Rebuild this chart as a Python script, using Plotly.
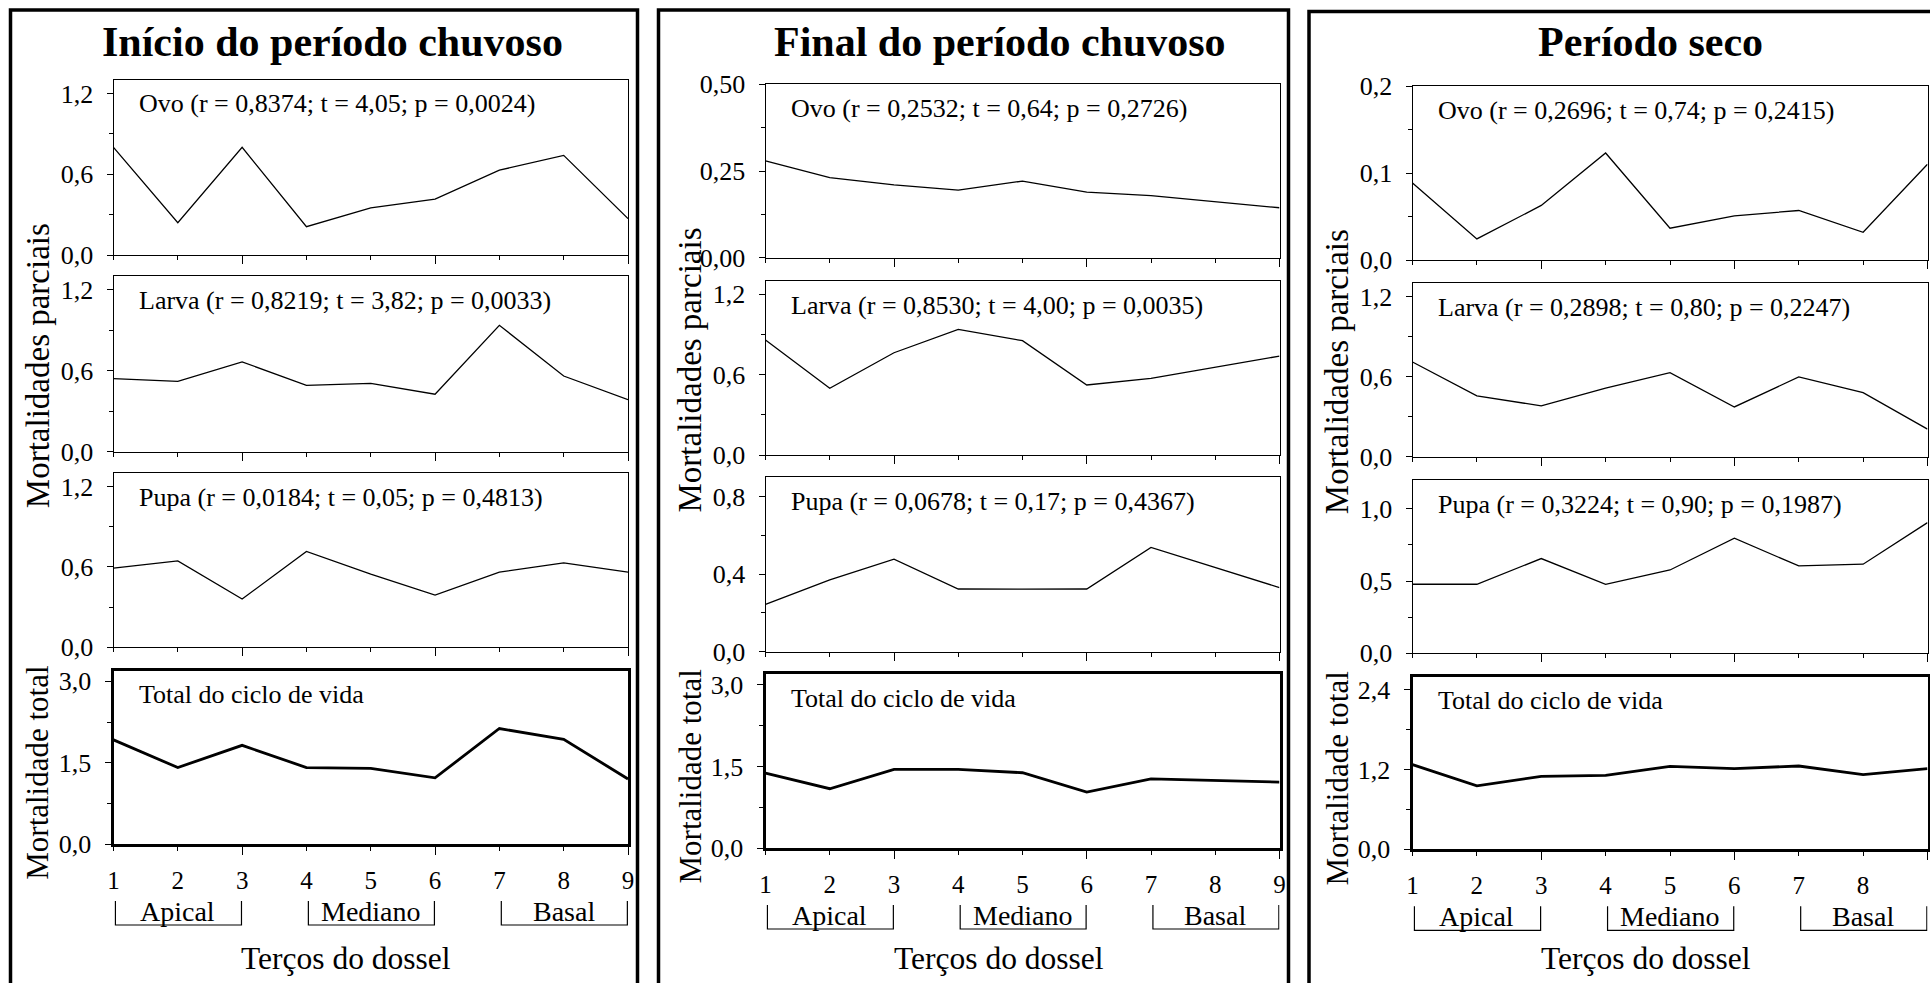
import plotly.graph_objects as go

# ---------------- data ----------------
X = [1, 2, 3, 4, 5, 6, 7, 8, 9]
x_tick_labels = ["1", "2", "3", "4", "5", "6", "7", "8", "9"]

period_titles = ["Início do período chuvoso", "Final do período chuvoso", "Período seco"]

# Início do período chuvoso
ovo_inicio = [0.80, 0.24, 0.80, 0.21, 0.35, 0.415, 0.63, 0.74, 0.27]
larva_inicio = [0.54, 0.52, 0.665, 0.49, 0.505, 0.425, 0.935, 0.56, 0.385]
pupa_inicio = [0.59, 0.645, 0.36, 0.715, 0.545, 0.39, 0.56, 0.63, 0.56]
total_inicio = [1.92, 1.41, 1.82, 1.41, 1.395, 1.22, 2.13, 1.93, 1.20]

# Final do período chuvoso
ovo_final = [0.279, 0.231, 0.210, 0.195, 0.221, 0.189, 0.179, 0.162, 0.144]
larva_final = [0.859, 0.498, 0.764, 0.939, 0.854, 0.523, 0.573, 0.655, 0.739]
pupa_final = [0.244, 0.370, 0.477, 0.323, 0.322, 0.323, 0.537, 0.435, 0.330]
total_final = [1.378, 1.09, 1.445, 1.445, 1.384, 1.029, 1.273, 1.243, 1.212]

# Período seco
ovo_seco = [0.0885, 0.0242, 0.0627, 0.123, 0.0365, 0.0508, 0.0569, 0.0319, 0.110]
larva_seco = [0.710, 0.456, 0.381, 0.515, 0.630, 0.373, 0.598, 0.480, 0.207]
pupa_seco = [0.478, 0.478, 0.656, 0.478, 0.577, 0.797, 0.605, 0.617, 0.905]
total_seco = [1.275, 0.955, 1.10, 1.115, 1.25, 1.215, 1.255, 1.125, 1.215]

labels_inicio = ["Ovo (r = 0,8374; t = 4,05; p = 0,0024)",
                 "Larva (r = 0,8219; t = 3,82; p = 0,0033)",
                 "Pupa (r = 0,0184; t = 0,05; p = 0,4813)",
                 "Total do ciclo de vida"]
labels_final = ["Ovo (r = 0,2532; t = 0,64; p = 0,2726)",
                "Larva (r = 0,8530; t = 4,00; p = 0,0035)",
                "Pupa (r = 0,0678; t = 0,17; p = 0,4367)",
                "Total do ciclo de vida"]
labels_seco = ["Ovo (r = 0,2696; t = 0,74; p = 0,2415)",
               "Larva (r = 0,2898; t = 0,80; p = 0,2247)",
               "Pupa (r = 0,3224; t = 0,90; p = 0,1987)",
               "Total do ciclo de vida"]

yticks_inicio = [[0, 0.6, 1.2], [0, 0.6, 1.2], [0, 0.6, 1.2], [0, 1.5, 3.0]]
yticks_final = [[0, 0.25, 0.5], [0, 0.6, 1.2], [0, 0.4, 0.8], [0, 1.5, 3.0]]
yticks_seco = [[0, 0.1, 0.2], [0, 0.6, 1.2], [0, 0.5, 1.0], [0, 1.2, 2.4]]

groups = ["Apical", "Mediano", "Basal"]
group_bounds = [(1, 3), (4, 6), (7, 9)]

y_title_partial = "Mortalidades parciais"
y_title_total = "Mortalidade total"
x_title = "Terços do dossel"

panels = [
    ([ovo_inicio, larva_inicio, pupa_inicio, total_inicio], labels_inicio, yticks_inicio),
    ([ovo_final, larva_final, pupa_final, total_final], labels_final, yticks_final),
    ([ovo_seco, larva_seco, pupa_seco, total_seco], labels_seco, yticks_seco),
]

# ---------------- layout geometry (pixels) ----------------
W, H = 1930, 983
FONT = "Liberation Serif, Times New Roman, serif"


def fx(px):
    return px / W


def fy(py):
    return 1 - py / H


plot_left = [113.5, 765.5, 1412.5]
plot_right = [628.0, 1279.5, 1927.5]
rows_px = [
    [(80, 255), (276, 451.7), (473, 647.3), (670.5, 844)],
    [(84.3, 257.7), (281, 455), (477, 651.7), (674, 848)],
    [(86, 260), (283.3, 456.7), (480, 653.3), (676.7, 849.3)],
]
y_max = [[1.3, 1.3, 1.3, 3.2], [0.5, 1.3, 0.9, 3.2], [0.2, 1.3, 1.2, 2.6]]
y_fmt = [[".1f"] * 4, [".2f", ".1f", ".1f", ".1f"], [".1f"] * 4]
title_cx = [332.5, 1000, 1650]
xtitle_cx = [346, 999, 1646]
frames = [(10.5, 637.5), (658.5, 1288.5), (1309, 1950)]

fig = go.Figure()
layout = dict(
    width=W, height=H,
    margin=dict(l=0, r=0, t=0, b=0, pad=0, autoexpand=False),
    paper_bgcolor="white", plot_bgcolor="white",
    showlegend=False,
    separators=",.",
    font=dict(family=FONT, color="black", size=24),
)
annotations = []
shapes = []

major_x = [v for v in X if v % 3 == 0]
minor_x = [v for v in X if v % 3 != 0]

for p, (series, labels, yticks) in enumerate(panels):
    L, R = plot_left[p], plot_right[p]
    kb = p * 4 + 4          # bottom (total) subplot index
    ko = 12 + p + 1         # overlay x axis carrying the 1..9 labels
    for r in range(4):
        k = p * 4 + r + 1
        top, bot = rows_px[p][r]
        is_total = r == 3
        lw = 3 if is_total else 1
        xs = "" if k == 1 else str(k)
        trace_x = ("x" + str(ko)) if is_total else ("x" + xs)
        fig.add_trace(go.Scatter(
            x=X, y=series[r], mode="lines",
            line=dict(color="black", width=2.8 if is_total else 1.3),
            xaxis=trace_x, yaxis="y" + xs, hoverinfo="skip",
        ))
        layout["xaxis" + xs] = dict(
            domain=[fx(L), fx(R)], anchor="y" + xs, range=[1, 9],
            showline=True, mirror=True, linecolor="black", linewidth=lw,
            ticks="outside", tickmode="array", tickvals=major_x, ticklen=8,
            tickwidth=1, tickcolor="black", showticklabels=False,
            showgrid=False, zeroline=False,
            minor=dict(tickmode="array", tickvals=minor_x, ticklen=4,
                       ticks="outside", tickcolor="black", tickwidth=1,
                       showgrid=False),
        )
        yt = yticks[r]
        mids = [(a + b) / 2 for a, b in zip(yt[:-1], yt[1:])]
        layout["yaxis" + xs] = dict(
            domain=[fy(bot), fy(top)], anchor="x" + xs, range=[0, y_max[p][r]],
            showline=True, mirror=True, linecolor="black", linewidth=lw,
            ticks="outside", tickmode="array", tickvals=yt, tickformat=y_fmt[p][r],
            ticklen=6, tickwidth=1, tickcolor="black",
            tickfont=dict(size=26, family=FONT, color="black"),
            ticklabelstandoff=8,
            showgrid=False, zeroline=False,
            minor=dict(tickmode="array", tickvals=mids, ticklen=4,
                       ticks="outside", tickcolor="black", tickwidth=1,
                       showgrid=False),
        )
        annotations.append(dict(
            x=fx(L + 23.5), y=fy(top + 24), xref="paper", yref="paper",
            text=labels[r], showarrow=False, xanchor="left", yanchor="middle",
            font=dict(size=26, family=FONT, color="black"),
        ))

    layout["xaxis" + str(ko)] = dict(
        overlaying="x" + str(kb), anchor="y" + str(kb), side="bottom",
        range=[1, 9], tickmode="array", tickvals=X, ticktext=x_tick_labels,
        ticks="", showline=False, showgrid=False, zeroline=False,
        tickfont=dict(size=25, family=FONT, color="black"),
        ticklabelstandoff=19,
    )

    tb = rows_px[p][3][1]
    # brackets and group names
    for g, (a, b) in zip(groups, group_bounds):
        x0 = a + 0.03
        x1 = b - 0.01
        shapes.append(dict(
            type="path", xref="x" + str(kb), yref="paper",
            path=f"M {x0},{fy(tb + 57)} L {x0},{fy(tb + 81)} L {x1},{fy(tb + 81)} L {x1},{fy(tb + 57)}",
            line=dict(color="black", width=1.2),
        ))
        annotations.append(dict(
            x=(a + b) / 2, y=fy(tb + 67), xref="x" + str(kb), yref="paper",
            text=g, showarrow=False, xanchor="center", yanchor="middle",
            font=dict(size=28, family=FONT, color="black"),
        ))

    # titles
    annotations.append(dict(
        x=fx(title_cx[p]), y=fy(42), xref="paper", yref="paper",
        text=period_titles[p], showarrow=False, xanchor="center", yanchor="middle",
        font=dict(size=42, family=FONT, color="black", weight="bold"),
    ))
    annotations.append(dict(
        x=fx(xtitle_cx[p]), y=fy(958), xref="paper", yref="paper",
        text=x_title, showarrow=False, xanchor="center", yanchor="middle",
        font=dict(size=31.5, family=FONT, color="black"),
    ))
    # y titles
    top0 = rows_px[p][0][0]
    bot2 = rows_px[p][2][1]
    annotations.append(dict(
        x=fx(L - 76), y=fy((top0 + bot2) / 2 + 2), xref="paper", yref="paper",
        text=y_title_partial, showarrow=False, textangle=-90,
        xanchor="center", yanchor="middle",
        font=dict(size=33, family=FONT, color="black"),
    ))
    t3, b3 = rows_px[p][3]
    annotations.append(dict(
        x=fx(L - 76), y=fy((t3 + b3) / 2 + 16), xref="paper", yref="paper",
        text=y_title_total, showarrow=False, textangle=-90,
        xanchor="center", yanchor="middle",
        font=dict(size=31, family=FONT, color="black"),
    ))
    # outer frame
    f0, f1 = frames[p]
    shapes.append(dict(
        type="rect", xref="paper", yref="paper",
        x0=fx(f0), x1=fx(f1), y0=fy(1000), y1=fy(10 if p < 2 else 11.5),
        line=dict(color="black", width=3.5), fillcolor="rgba(0,0,0,0)",
    ))

layout["annotations"] = annotations
layout["shapes"] = shapes
fig.update_layout(**layout)
fig.write_html("out.html")
